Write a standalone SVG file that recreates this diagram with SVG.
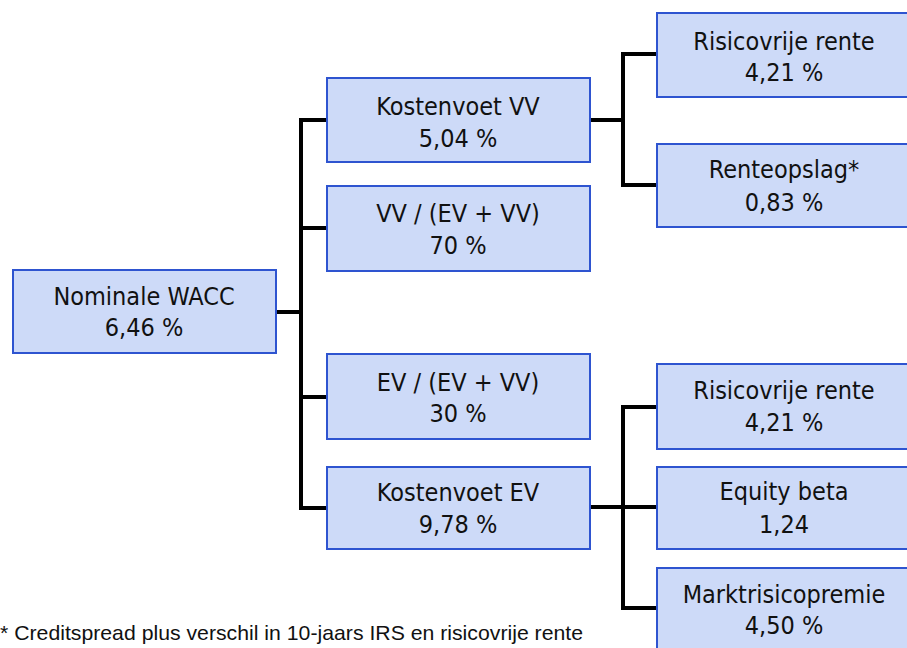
<svg xmlns="http://www.w3.org/2000/svg" width="907" height="648" viewBox="0 0 907 648">
<style>
.box{fill:#CDDAF8;stroke:#2E54D0;stroke-width:2}
.t{font-family:"DejaVu Sans Condensed","DejaVu Sans",sans-serif;font-stretch:condensed;font-size:25px;fill:#111;text-anchor:middle}
.ln{fill:none;stroke:#000;stroke-width:4;stroke-linecap:square}
.fn{font-family:"Liberation Sans",Arial,sans-serif;font-size:21px;fill:#111}
</style>
<rect width="907" height="648" fill="#fff"/>
<g id="connectors">
<path class="ln" d="M276 312H301M301 120V508M301 120H327M301 228H327M301 397H327M301 508H327"/>
<path class="ln" d="M590 120H623M623 54V185M623 54H657M623 185H657"/>
<path class="ln" d="M590 507H623M623 407V608M623 407H657M623 507H657M623 608H657"/>
</g>
<g id="n-wacc"><rect class="box" x="13" y="270" width="263" height="83"/><text class="t" x="144" y="305">Nominale WACC</text><text class="t" x="144" y="336">6,46 %</text></g>
<g id="n-kvv"><rect class="box" x="327" y="78" width="263" height="84"/><text class="t" x="458" y="115">Kostenvoet VV</text><text class="t" x="458" y="147">5,04 %</text></g>
<g id="n-vvratio"><rect class="box" x="327" y="186" width="263" height="85"/><text class="t" x="458" y="222">VV / (EV + VV)</text><text class="t" x="458" y="254">70 %</text></g>
<g id="n-evratio"><rect class="box" x="327" y="354" width="263" height="85"/><text class="t" x="458" y="391">EV / (EV + VV)</text><text class="t" x="458" y="422">30 %</text></g>
<g id="n-kev"><rect class="box" x="327" y="467" width="263" height="82"/><text class="t" x="458" y="501">Kostenvoet EV</text><text class="t" x="458" y="533">9,78 %</text></g>
<g id="n-rvr1"><rect class="box" x="657" y="13" width="256" height="84"/><text class="t" x="784" y="50">Risicovrije rente</text><text class="t" x="784" y="81">4,21 %</text></g>
<g id="n-ro"><rect class="box" x="657" y="144" width="256" height="83"/><text class="t" x="784" y="178">Renteopslag*</text><text class="t" x="784" y="211">0,83 %</text></g>
<g id="n-rvr2"><rect class="box" x="657" y="364" width="256" height="85"/><text class="t" x="784" y="399">Risicovrije rente</text><text class="t" x="784" y="431">4,21 %</text></g>
<g id="n-beta"><rect class="box" x="657" y="467" width="256" height="82"/><text class="t" x="784" y="500">Equity beta</text><text class="t" x="784" y="533">1,24</text></g>
<g id="n-mrp"><rect class="box" x="657" y="568" width="256" height="90"/><text class="t" x="784" y="603">Marktrisicopremie</text><text class="t" x="784" y="634">4,50 %</text></g>
<text class="fn" x="0" y="640" textLength="583" lengthAdjust="spacingAndGlyphs">* Creditspread plus verschil in 10-jaars IRS en risicovrije rente</text>
</svg>
